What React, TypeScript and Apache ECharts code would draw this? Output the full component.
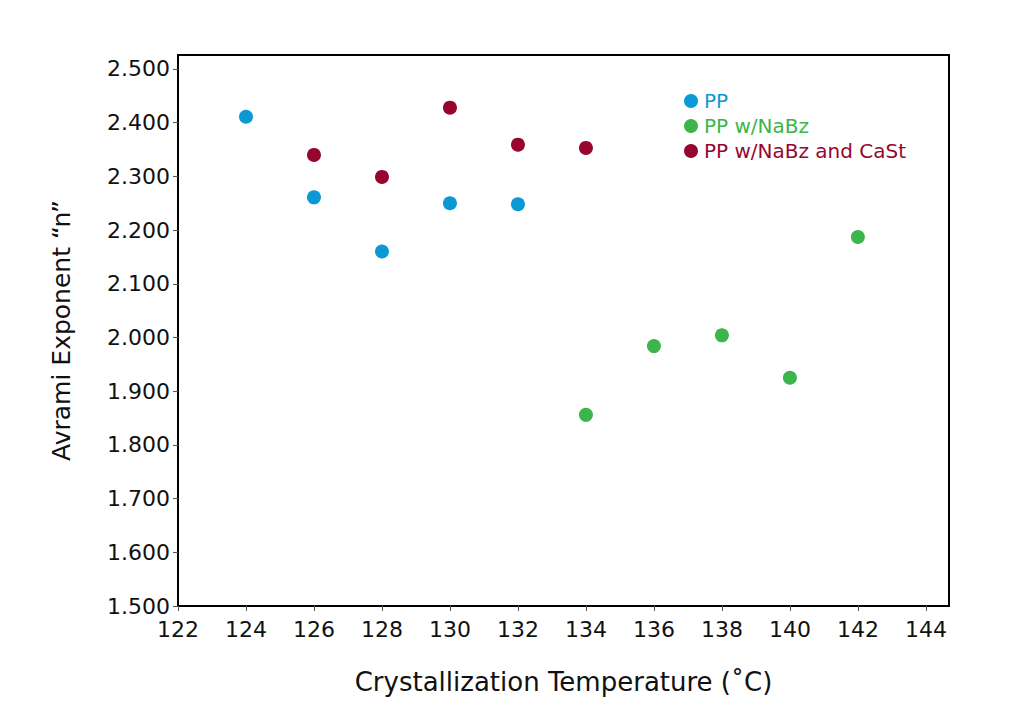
import React, { useEffect, useRef } from "react";
import * as echarts from "echarts";

const xTicks = [122, 124, 126, 128, 130, 132, 134, 136, 138, 140, 142, 144];
const yTicks = [1.5, 1.6, 1.7, 1.8, 1.9, 2.0, 2.1, 2.2, 2.3, 2.4, 2.5];

const ppX = [124, 126, 128, 130, 132];
const ppY = [2.411, 2.261, 2.16, 2.25, 2.248];

const nabzX = [134, 136, 138, 140, 142];
const nabzY = [1.856, 1.984, 2.004, 1.925, 2.187];

const castX = [126, 128, 130, 132, 134];
const castY = [2.34, 2.299, 2.428, 2.359, 2.353];

const seriesNames = ["PP", "PP w/NaBz", "PP w/NaBz and CaSt"];
const seriesColors = ["#0b99d6", "#3cb54a", "#98062f"];

const FONT = "'DejaVu Sans', 'Open Sans', sans-serif";

export default function App() {
  const ref = useRef<HTMLDivElement>(null);
  useEffect(() => {
    if (!ref.current) return;
    const chart = echarts.init(ref.current, undefined, { renderer: "svg" });
    const pairs = [
      ppX.map((x, i) => [x, ppY[i]]),
      nabzX.map((x, i) => [x, nabzY[i]]),
      castX.map((x, i) => [x, castY[i]]),
    ];
    chart.setOption({
      animation: false,
      backgroundColor: "#ffffff",
      grid: { left: 178, top: 55, right: 79, bottom: 116, show: true, borderColor: "#000", borderWidth: 2, backgroundColor: "transparent" },
      legend: {
        orient: "vertical",
        left: 679,
        top: 86,
        itemGap: 5,
        itemWidth: 16,
        itemHeight: 14,
        icon: "circle",
        textStyle: { fontFamily: FONT, fontSize: 20 },
        data: seriesNames.map((n, i) => ({ name: n, textStyle: { color: seriesColors[i] } })),
      },
      xAxis: {
        type: "value",
        min: 122,
        max: 144.68,
        interval: 2,
        name: "Crystallization Temperature (˚C)",
        nameLocation: "middle",
        nameGap: 63,
        nameTextStyle: { fontFamily: FONT, fontSize: 26, color: "#111" },
        axisLine: { show: true, lineStyle: { color: "#000", width: 2 } },
        axisTick: { show: true, length: 5, lineStyle: { color: "#555" }, customValues: xTicks },
        axisLabel: { fontFamily: FONT, fontSize: 22, color: "#111", margin: 12, customValues: xTicks },
        splitLine: { show: false },
      },
      yAxis: {
        type: "value",
        min: 1.5,
        max: 2.526,
        interval: 0.1,
        name: "Avrami Exponent “n”",
        nameLocation: "middle",
        nameGap: 104,
        nameTextStyle: { fontFamily: FONT, fontSize: 25, color: "#111" },
        axisLine: { show: true, lineStyle: { color: "#000", width: 2 } },
        axisTick: { show: true, length: 5, lineStyle: { color: "#555" }, customValues: yTicks },
        axisLabel: {
          fontFamily: FONT,
          fontSize: 22,
          color: "#111",
          margin: 8,
          customValues: yTicks,
          formatter: (v: number) => v.toFixed(3),
        },
        splitLine: { show: false },
      },
      series: seriesNames.map((n, i) => ({
        name: n,
        type: "scatter",
        symbol: "circle",
        symbolSize: 14,
        itemStyle: { color: seriesColors[i], opacity: 1 },
        data: pairs[i],
      })),
    });
    return () => chart.dispose();
  }, []);
  return <div ref={ref} style={{ position: "fixed", left: 0, top: 0, width: 1028, height: 722 }} />;
}
